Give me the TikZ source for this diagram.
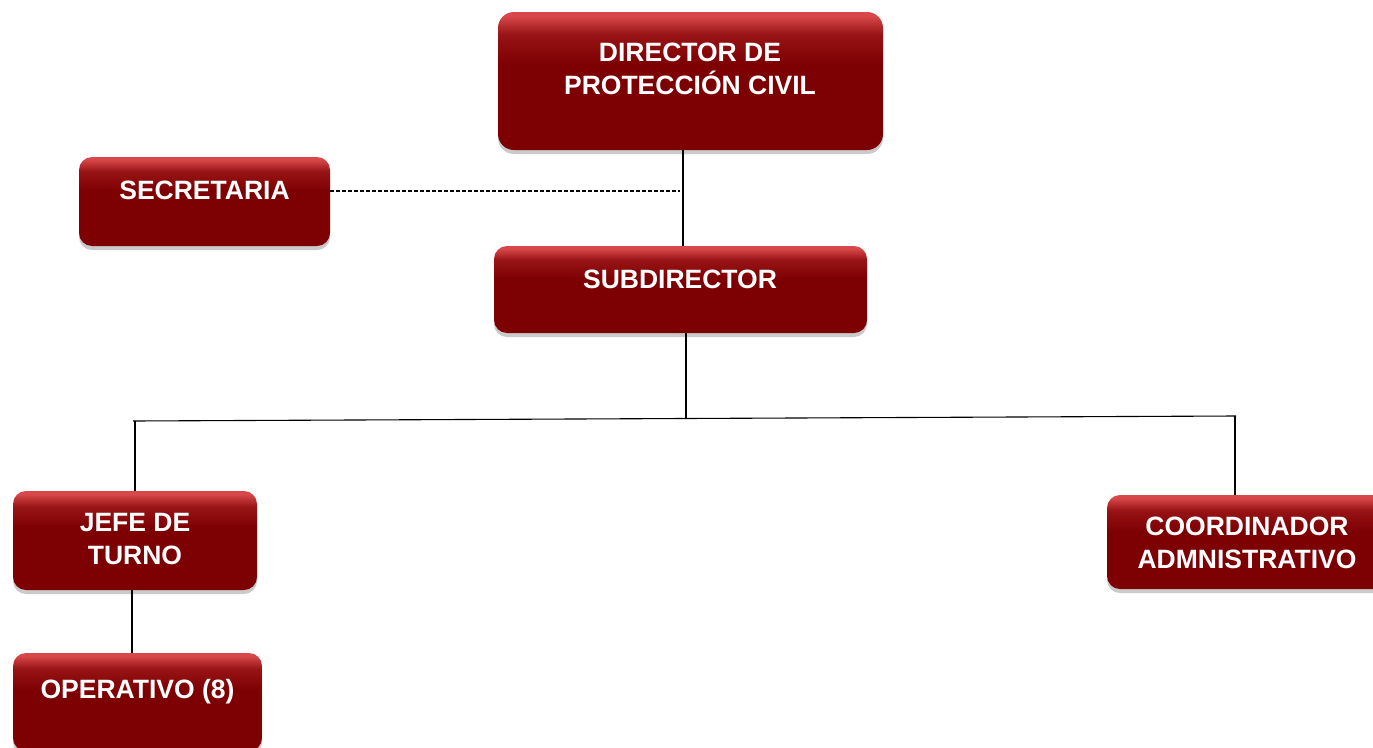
\documentclass[tikz,border=0pt]{standalone}
\usepackage{fontspec}
\setmainfont{Liberation Sans}
\usetikzlibrary{shadows}
\definecolor{boxdark}{RGB}{125,0,2}
\definecolor{boxmid}{RGB}{152,20,22}
\definecolor{boxlight}{RGB}{216,72,74}
\pgfdeclareverticalshading{boxshade}{100bp}{color(0bp)=(boxdark); color(56bp)=(boxdark); color(67bp)=(boxmid); color(73.5bp)=(boxlight); color(100bp)=(boxlight)}
\tikzset{
  orgbox/.style={draw=none, shading=boxshade, rounded corners=13pt, inner sep=0pt,
    drop shadow={shadow xshift=0pt, shadow yshift=-4pt, opacity=0.35, fill=black!60}},
  lbl/.style={text=white, font=\fontsize{26.5}{33}\selectfont\bfseries, align=center, inner sep=0pt},
  link/.style={draw=black, line width=1.1pt},
  dlink/.style={draw=black, line width=1.1pt, dash pattern=on 4pt off 2pt}
}
\begin{document}
\begin{tikzpicture}[x=1pt,y=-1pt]
\useasboundingbox (0,0) rectangle (1373,747);
% boxes
\node[orgbox, minimum width=385pt, minimum height=138pt, rounded corners=16pt] (dir) at (690.5,81) {};
\node[lbl] (dirt) at (690,69) {DIRECTOR DE\\PROTECCIÓN CIVIL};
\node[orgbox, minimum width=251pt, minimum height=89pt] (sec) at (204.5,201.5) {};
\node[lbl] (sect) at (204.5,190) {SECRETARIA};
\node[orgbox, minimum width=373pt, minimum height=87pt] (sub) at (680.5,289.5) {};
\node[lbl] (subt) at (680,279) {SUBDIRECTOR};
\node[orgbox, minimum width=244pt, minimum height=99pt] (jefe) at (135,540.5) {};
\node[lbl] (jefet) at (135,539.5) {JEFE DE\\TURNO};
\node[orgbox, minimum width=280pt, minimum height=94pt] (coord) at (1247,542) {};
\node[lbl] (coordt) at (1247,542.5) {COORDINADOR\\ADMNISTRATIVO};
\node[orgbox, minimum width=249pt, minimum height=98pt] (oper) at (137.5,702) {};
\node[lbl] (opert) at (137.5,692) {OPERATIVO (8)};
% junction coordinates
\coordinate (d1) at (683,150);
\coordinate (d2) at (683,246);
\coordinate (s1) at (680,191);
\coordinate (u1) at (686,333);
\coordinate (u2) at (686,418);
\coordinate (hl) at (133,421);
\coordinate (hr) at (1236,416);
\coordinate (jl) at (135,421);
\coordinate (jr) at (1235,416);
\coordinate (o1) at (132,590);
% connectors
\draw[link] (d1) -- (d2);
\draw[dlink] (sec.east |- s1) -- (s1);
\draw[link] (u1) -- (u2);
\draw[link] (hl) -- (hr);
\draw[link] (jl) -- (jl |- jefe.north);
\draw[link] (jr) -- (jr |- coord.north);
\draw[link] (o1) -- (o1 |- oper.north);
\end{tikzpicture}
\end{document}
